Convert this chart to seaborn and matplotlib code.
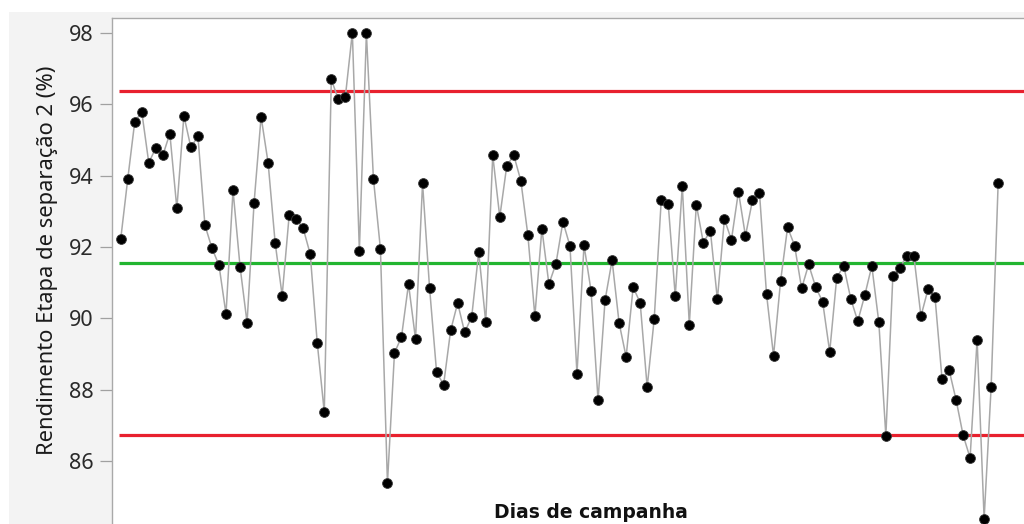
import matplotlib
matplotlib.use("Agg")
import matplotlib.pyplot as plt
from matplotlib.patches import Rectangle
import seaborn as sns
import pandas as pd

# ---- data ----
days = list(range(1, 127))
rendimento = [92.22, 93.90, 95.51, 95.79, 94.36, 94.78, 94.57, 95.18, 93.08, 95.68,
              94.79, 95.11, 92.61, 91.97, 91.49, 90.12, 93.59, 91.45, 89.88, 93.24,
              95.65, 94.36, 92.12, 90.64, 92.89, 92.79, 92.52, 91.80, 89.31, 87.37,
              96.70, 96.14, 96.21, 98.01, 91.89, 97.99, 93.92, 91.94, 85.38, 89.03,
              89.48, 90.96, 89.42, 93.79, 90.85, 88.49, 88.14, 89.66, 90.43, 89.61,
              90.04, 91.86, 89.89, 94.57, 92.84, 94.28, 94.57, 93.86, 92.34, 90.06,
              92.51, 90.96, 91.53, 92.71, 92.03, 88.45, 92.05, 90.78, 87.71, 90.51,
              91.63, 89.87, 88.92, 90.87, 90.44, 88.07, 89.98, 93.31, 93.20, 90.62,
              93.72, 89.82, 93.19, 92.12, 92.46, 90.53, 92.78, 92.20, 93.55, 92.31,
              93.31, 93.51, 90.68, 88.95, 91.04, 92.55, 92.04, 90.84, 91.51, 90.88,
              90.46, 89.06, 91.14, 91.47, 90.55, 89.92, 90.65, 91.47, 89.89, 86.71,
              91.19, 91.42, 91.76, 91.74, 90.06, 90.81, 90.60, 88.31, 88.56, 87.72,
              86.73, 86.09, 89.40, 84.38, 88.08, 93.80]
limites = [96.36, 86.73]        # UCL, LCL
media = [91.55]                  # center line
yticks = [86, 88, 90, 92, 94, 96, 98]

xlabel = "Dias de campanha"
ylabel = "Rendimento Etapa de separação 2 (%)"

df = pd.DataFrame({"dia": days, "rend": rendimento})

sns.set_style("white")
plt.rcParams["font.family"] = ["Noto Sans", "DejaVu Sans"]

W, H = 1024, 524
fig = plt.figure(figsize=(W / 100, H / 100), dpi=100, facecolor="#f3f3f3")
# white strips at the very top and left of the window area
fig.patches.append(Rectangle((0, 1 - 12 / H), 1, 12 / H, transform=fig.transFigure,
                             facecolor="white", edgecolor="none", zorder=0))
fig.patches.append(Rectangle((0, 0), 9 / W, 1, transform=fig.transFigure,
                             facecolor="white", edgecolor="none", zorder=0))

ax = fig.add_axes([112 / W, 0, (W - 112) / W, (H - 18) / H])
ax.set_facecolor("white")

# control limits
ax.hlines(limites, 0.72, 140, colors="#e8212e", linewidth=2.3, zorder=1)
ax.hlines(media, 0.72, 140, colors="#22b530", linewidth=2.3, zorder=1)

sns.lineplot(data=df, x="dia", y="rend", ax=ax, color="#a8a8a8", linewidth=1.1, zorder=2)
sns.scatterplot(data=df, x="dia", y="rend", ax=ax, color="black", s=50,
                edgecolor="#3a3a3a", linewidth=0.6, zorder=3)

ax.set_xlim(-0.24, 129.68)
ax.set_ylim(84.235, 98.42)
ax.set_yticks(yticks)
ax.set_yticklabels([str(t) for t in yticks])
ax.set_xticks([])
ax.set_xlabel("")
ax.set_ylabel("")
ax.tick_params(axis="y", direction="out", length=8.5, width=0.9, color="#a0a0a0",
               pad=4.5, labelsize=15.5, labelcolor="#2a2a2a", left=True)

for side in ["right", "bottom"]:
    ax.spines[side].set_visible(False)
for side in ["left", "top"]:
    ax.spines[side].set_color("#a9a9a9")
    ax.spines[side].set_linewidth(1.0)

fig.text(48 / W, 1 - 260 / H, ylabel, rotation=90, ha="center", va="center",
         fontsize=15.8, color="#1a1a1a")
fig.text(591 / W, 1 - 512 / H, xlabel, ha="center", va="center",
         fontsize=13.5, color="#111111", fontweight="bold", family="DejaVu Sans", zorder=5)

fig.savefig("out.png", dpi=100, facecolor=fig.get_facecolor())
